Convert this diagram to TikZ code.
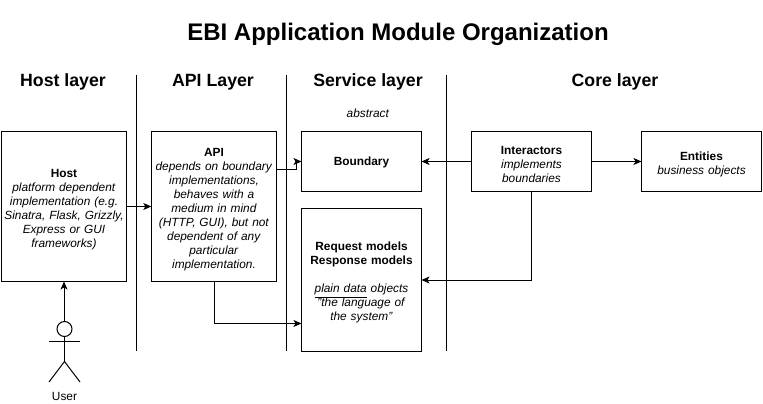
\documentclass[tikz,border=0pt]{standalone}
\usepackage{fontspec}
\setmainfont{Liberation Sans}
\usepackage{tikz}
\usetikzlibrary{arrows.meta,positioning}

\tikzset{
    modulebox/.style={rectangle, draw, line width=0.75pt, outer sep=0pt, align=center, inner sep=0pt, execute at end node=\vadjust{\kern-4pt}},
    tallbox/.style={modulebox, minimum width=94pt, minimum height=112.5pt, text width=93pt},
    smallbox/.style={modulebox, minimum width=90pt, minimum height=45pt, text width=88pt},
    layertitle/.style={font=\fontsize{13.3}{16}\selectfont\bfseries},
    flow/.style={-{Stealth[length=6pt,width=5.2pt,inset=1.5pt]}, line width=0.75pt},
    divider/.style={line width=0.75pt},
    stick/.style={line width=0.75pt}
}

\begin{document}
\begin{tikzpicture}[x=0.75pt, y=-0.75pt, every node/.style={font=\fontsize{8.9}{10.5}\selectfont}]
    \useasboundingbox (0,0) rectangle (763,403);

    % Titles
    \node[font=\fontsize{18}{22}\selectfont\bfseries] (title) at (398,34.5) {EBI Application Module Organization};
    \node[layertitle] (hostlayer) at (63,82) {Host layer};
    \node[layertitle] (apilayer) at (213,82) {API Layer};
    \node[layertitle] (servicelayer) at (368,82) {Service layer};
    \node[layertitle] (corelayer) at (615,82) {Core layer};

    % Layer dividers
    \draw[divider] (136.5,75) -- (136.5,351);
    \draw[divider] (286.5,75) -- (286.5,351);
    \draw[divider] (446.5,75) -- (446.5,351);

    % Host and API
    \node[tallbox] (host) at (64,206.5) {\textbf{Host}\\\textit{platform dependent}\\\textit{implementation (e.g.}\\\textit{Sinatra, Flask, Grizzly,}\\\textit{Express or GUI}\\\textit{frameworks)}};
    \node[tallbox, right=18.5pt of host] (api) {\textbf{API}\\\textit{depends on boundary}\\\textit{implementations,}\\\textit{behaves with a}\\\textit{medium in mind}\\\textit{(HTTP, GUI), but not}\\\textit{dependent of any}\\\textit{particular}\\\textit{implementation.}};

    % Service layer
    \node[smallbox, anchor=north west] (boundary) at (301.5,131.5) {\textbf{Boundary}};
    \node[modulebox, minimum width=90pt, minimum height=107.25pt, text width=88pt, below=12.75pt of boundary] (models) {\textbf{Request models}\\\textbf{Response models}\\[10.5pt]\textit{\underline{plain data} objects}\\\textit{"the language of}\\\textit{the system"}};
    \node[above=7pt of boundary, xshift=4.9pt] (abstract) {\textit{abstract}};

    % Core layer
    \node[smallbox, right=37.5pt of boundary] (interactors) {\textbf{Interactors}\\\textit{implements}\\\textit{boundaries}};
    \node[smallbox, right=37.5pt of interactors] (entities) {\textbf{Entities}\\\textit{business objects}};

    % User
    \node[circle, draw, line width=0.75pt, minimum size=11.25pt, inner sep=0pt, outer sep=0pt] (userhead) at (64.5,329) {};
    \coordinate (userhip) at (64.5,361.5);
    \node (user) at (64.5,396) {User};
    \draw[stick] (userhead.south) -- (userhip);
    \draw[stick] (49,341) -- (80,341);
    \draw[stick] (49,382) -- (userhip) -- (80,382);

    % Connectors
    \draw[flow] (userhead.north) -- ++(0,-20) -| (host.south);
    \draw[flow] (host) -- (api);
    \draw[flow] ([yshift=27.75pt]api.east) -- ++(20,0) |- (boundary.west);
    \draw[flow] (api.south) |- ([yshift=-32.6pt]models.west);
    \draw[flow] (interactors) -- (boundary);
    \draw[flow] (interactors) -- (entities);
    \draw[flow] (interactors.south) |- (models.east);
\end{tikzpicture}
\end{document}
